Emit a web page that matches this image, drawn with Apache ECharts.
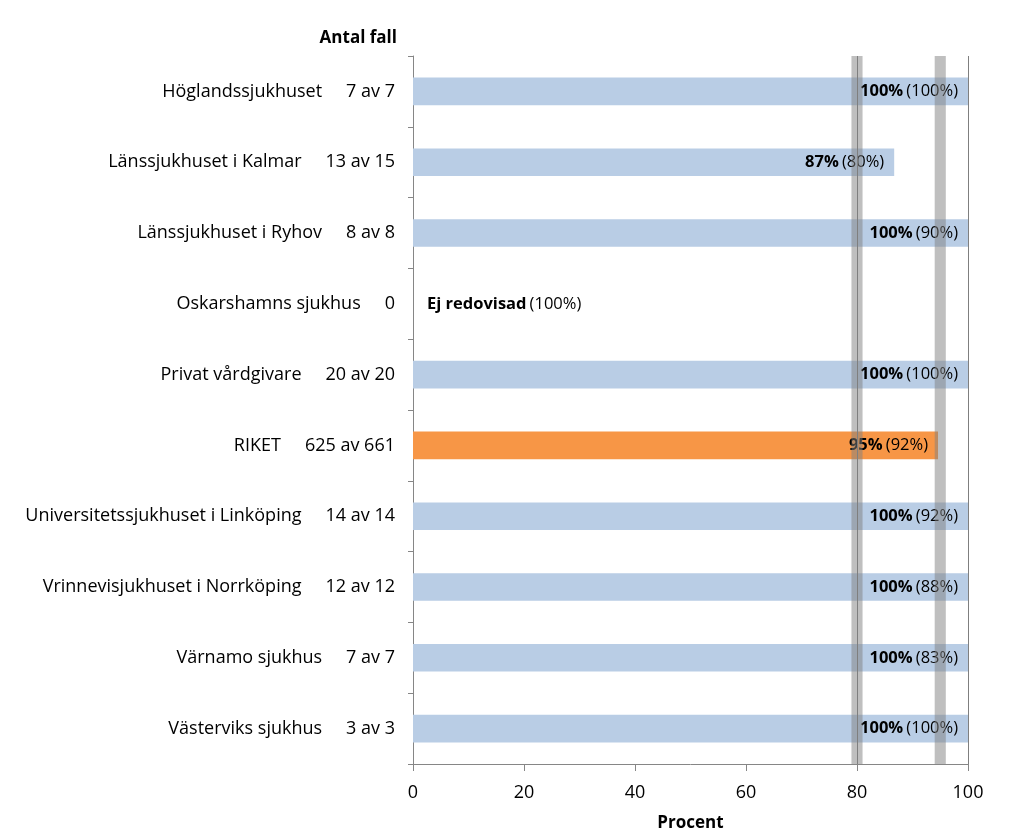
<!DOCTYPE html>
<html>
<head>
<meta charset="utf-8">
<script src="https://cdn.jsdelivr.net/npm/echarts@6/dist/echarts.min.js"></script>
<style>html,body{margin:0;padding:0;background:#fff;}#c{width:1024px;height:837px;}</style>
</head>
<body>
<div id="c"></div>
<script>
const categories = ['Höglandssjukhuset','Länssjukhuset i Kalmar','Länssjukhuset i Ryhov','Oskarshamns sjukhus','Privat vårdgivare','RIKET','Universitetssjukhuset i Linköping','Vrinnevisjukhuset i Norrköping','Värnamo sjukhus','Västerviks sjukhus'];
const counts = ['7 av 7','13 av 15','8 av 8','0','20 av 20','625 av 661','14 av 14','12 av 12','7 av 7','3 av 3'];
const values = [100,86.7,100,null,100,94.6,100,100,100,100];
const previous = ['100%','80%','90%','100%','100%','92%','92%','88%','83%','100%'];
const highlight = 'RIKET';
const targetBands = [[79,81],[94,96]];
const refLines = [80,100];

const FONT = '"Open Sans", sans-serif';
const chart = echarts.init(document.getElementById('c'));

const barData = values.map((v,i)=>({
  value: v === null ? 0 : v,
  itemStyle: {color: categories[i] === highlight ? '#f79646' : '#b9cde5'},
  label: v === null ? {position:'insideLeft', distance:14} : {}
}));

chart.setOption({
  animation:false,
  textStyle:{fontFamily:FONT},
  title:{text:'Antal fall', right:627, top:30, padding:0, textStyle:{fontFamily:FONT, fontWeight:'bold', fontSize:17, color:'#000'}},
  grid:{left:413, right:56, top:56, bottom:72, containLabel:false},
  xAxis:{
    type:'value', min:0, max:100, interval:20,
    name:'Procent', nameLocation:'middle', nameGap:51,
    nameTextStyle:{fontFamily:FONT, fontWeight:'bold', fontSize:17, color:'#000'},
    axisLine:{show:true, lineStyle:{color:'#868686'}},
    axisTick:{show:true, inside:false, length:7, lineStyle:{color:'#868686'}},
    axisLabel:{fontSize:18, color:'#000', margin:20, fontFamily:FONT},
    splitLine:{show:false}
  },
  yAxis:{
    type:'category', inverse:true, data:categories,
    axisLine:{show:true, lineStyle:{color:'#868686'}},
    axisTick:{show:true, inside:false, length:5, lineStyle:{color:'#868686'}},
    axisLabel:{
      margin:18, fontFamily:FONT,
      formatter:(v,i)=>'{n|'+v+'}{c|'+counts[i]+'}',
      rich:{
        n:{fontSize:18, color:'#000', fontFamily:FONT},
        c:{fontSize:18, color:'#000', fontFamily:FONT, padding:[0,0,0,24]}
      }
    }
  },
  series:[
    {
      type:'bar', data:barData, barWidth:'39%', z:2,
      label:{
        show:true, position:'insideRight', distance:10,
        formatter:(p)=> values[p.dataIndex]===null
          ? '{b|Ej redovisad} {n|('+previous[p.dataIndex]+')}'
          : '{b|'+Math.round(values[p.dataIndex])+'%} {n|('+previous[p.dataIndex]+')}',
        rich:{
          b:{fontWeight:'bold', fontSize:16.5, color:'#000', fontFamily:FONT},
          n:{fontSize:16.5, color:'#000', fontFamily:FONT}
        }
      }
    },
    {
      type:'line', data:[], z:5, silent:true,
      markArea:{
        silent:true, z:10,
        itemStyle:{color:'rgba(128,128,128,0.5)'},
        data: targetBands.map(b=>[{xAxis:b[0]},{xAxis:b[1]}])
      },
      markLine:{
        silent:true, symbol:'none', label:{show:false}, z:11,
        lineStyle:{color:'#7f7f7f', width:1, type:'solid'},
        data: refLines.map(x=>({xAxis:x}))
      }
    }
  ]
});
</script>
</body>
</html>
